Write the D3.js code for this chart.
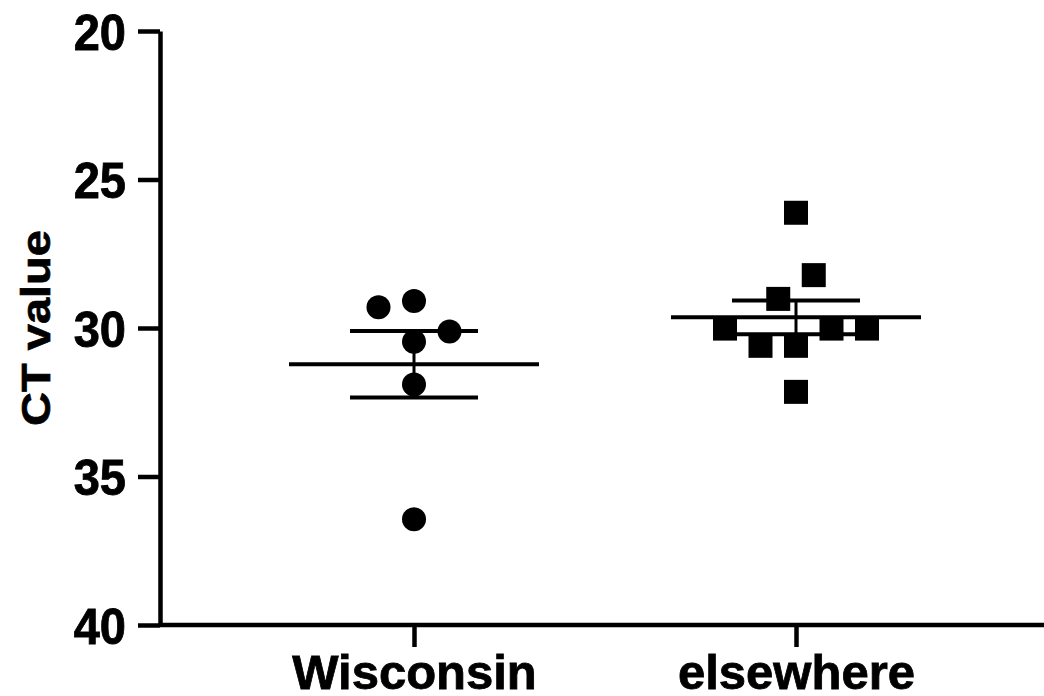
<!DOCTYPE html>
<html><head><meta charset="utf-8">
<script src="https://cdn.jsdelivr.net/npm/d3@7"></script>
<style>body{margin:0;background:#fff} text{font-family:"Liberation Sans",Arial,sans-serif;font-weight:bold;fill:#000}</style>
</head><body><svg id="c" width="1044" height="696"></svg>
<script>
const categories = ["Wisconsin", "elsewhere"];
const wisconsinValues = [29.30, 29.09, 30.12, 30.46, 31.90, 36.44];
const elsewhereValues = [26.12, 28.22, 29.02, 30.02, 30.02, 30.02, 30.60, 30.60, 32.15];
// horizontal scatter slots (layout only)
const wisconsinSlots = [-2, 0, 2, 0, 0, 0];
const elsewhereSlots = [0, 1, -1, -4, 2, 4, -2, 0, 0];
const yTicks = [20, 25, 30, 35, 40];
const yTitle = "CT value";

const svg = d3.select("#c");
const W = 1044, H = 696;
const axisX = 160, plotTop = 31, plotBottom = 625;
const slotPx = 17.75;

const y = d3.scaleLinear().domain([20, 40]).range([plotTop, plotBottom]);
const x = d3.scalePoint().domain(categories).range([414, 796]);

const groups = [
  {name: categories[0], values: wisconsinValues, slots: wisconsinSlots, shape: "circle"},
  {name: categories[1], values: elsewhereValues, slots: elsewhereSlots, shape: "square"}
];

// Y axis
const yAxis = d3.axisLeft(y).tickValues(yTicks).tickSize(22).tickSizeOuter(0).tickPadding(12);
const gy = svg.append("g").attr("transform", `translate(${axisX},0)`).call(yAxis);
gy.select(".domain").attr("stroke", "#000").attr("stroke-width", 4.5);
gy.selectAll(".tick line").attr("stroke", "#000").attr("stroke-width", 4.5);
gy.selectAll(".tick text").attr("font-size", 47).attr("font-family", "Liberation Sans, Arial, sans-serif")
  .attr("font-weight", "bold").attr("fill", "#000").attr("stroke", "#000").attr("stroke-width", 0.8)
  .attr("dy", "0.36em").attr("transform", "scale(1,1.08)");

// X axis
const xAxis = d3.axisBottom(x).tickSize(22).tickSizeOuter(0).tickPadding(10);
const gx = svg.append("g").attr("transform", `translate(0,${plotBottom})`).call(xAxis);
gx.select(".domain").remove();
gx.append("line").attr("x1", axisX).attr("x2", W + 10).attr("y1", 0).attr("y2", 0)
  .attr("stroke", "#000").attr("stroke-width", 4.5);
gx.selectAll(".tick line").attr("stroke", "#000").attr("stroke-width", 4.5);
gx.selectAll(".tick text").attr("font-size", 49).attr("font-family", "Liberation Sans, Arial, sans-serif")
  .attr("font-weight", "bold").attr("fill", "#000").attr("stroke", "#000").attr("stroke-width", 0.8)
  .attr("dy", null).attr("y", 64);

// Y title
svg.append("text")
  .attr("transform", `translate(50, ${(plotTop + plotBottom) / 2}) rotate(-90) scale(1,0.85)`)
  .attr("text-anchor", "middle").attr("font-size", 47)
  .attr("stroke", "#000").attr("stroke-width", 0.8).text(yTitle);

// Points
groups.forEach(g => {
  const cx = x(g.name);
  const pts = g.values.map((v, i) => ({v, px: cx + g.slots[i] * slotPx}));
  const gg = svg.append("g");
  if (g.shape === "circle") {
    gg.selectAll("circle").data(pts).join("circle")
      .attr("cx", d => d.px).attr("cy", d => y(d.v)).attr("r", 12).attr("fill", "#000");
  } else {
    gg.selectAll("rect").data(pts).join("rect")
      .attr("x", d => d.px - 12).attr("y", d => y(d.v) - 12).attr("width", 24).attr("height", 24).attr("fill", "#000");
  }
  // mean +/- SEM
  const m = d3.mean(g.values);
  const sem = d3.deviation(g.values) / Math.sqrt(g.values.length);
  const eb = svg.append("g").attr("stroke", "#000");
  eb.append("line").attr("x1", cx).attr("x2", cx).attr("y1", y(m - sem)).attr("y2", y(m + sem)).attr("stroke-width", 3);
  eb.append("line").attr("x1", cx - 125).attr("x2", cx + 125).attr("y1", y(m)).attr("y2", y(m)).attr("stroke-width", 4);
  [m - sem, m + sem].forEach(v => {
    eb.append("line").attr("x1", cx - 64).attr("x2", cx + 64).attr("y1", y(v)).attr("y2", y(v)).attr("stroke-width", 4);
  });
});
</script></body></html>
